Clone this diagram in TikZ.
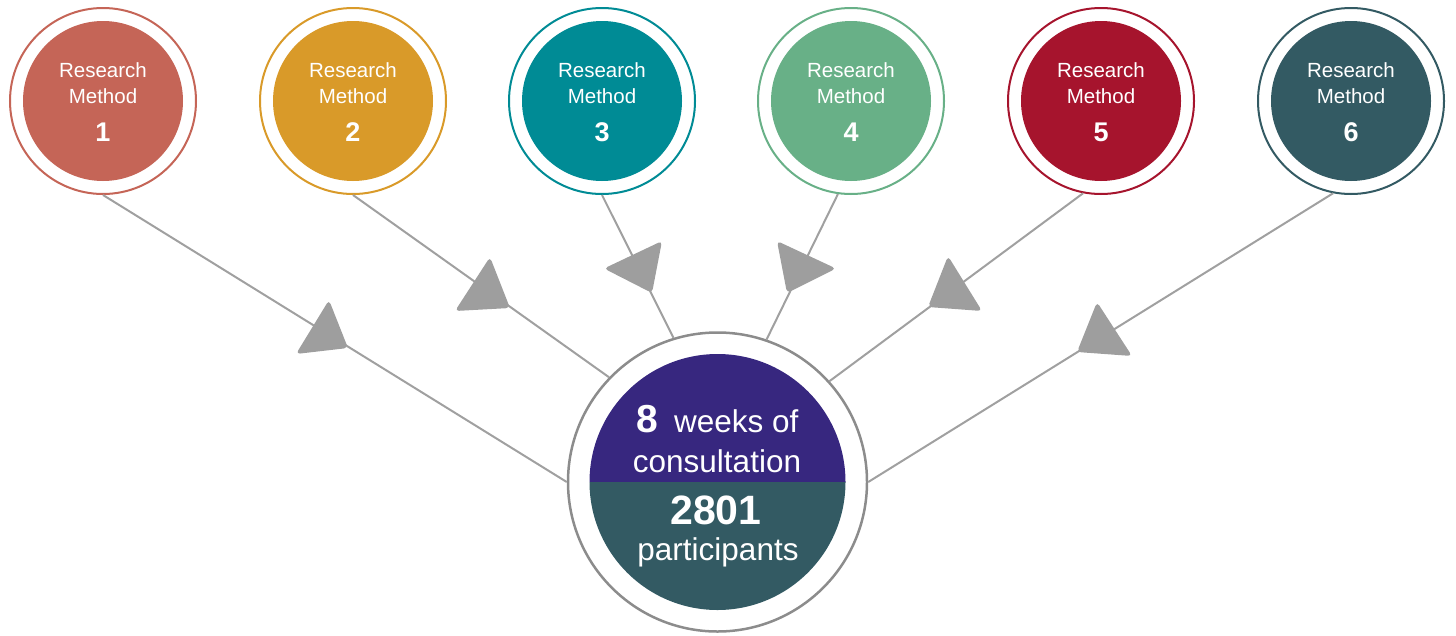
\documentclass[tikz,border=0pt]{standalone}
\usepackage{fontspec}
\setmainfont{Liberation Sans}
\definecolor{cA}{RGB}{197,101,87}
\definecolor{cB}{RGB}{217,154,41}
\definecolor{cC}{RGB}{0,139,149}
\definecolor{cD}{RGB}{104,176,135}
\definecolor{cE}{RGB}{166,20,45}
\definecolor{cF}{RGB}{51,90,99}
\definecolor{cPurple}{RGB}{55,39,127}
\definecolor{linegray}{RGB}{160,160,160}
\definecolor{trigray}{RGB}{158,158,158}
\definecolor{ringgray}{RGB}{140,140,140}
\tikzset{
  ring/.style={circle, draw=#1, line width=2pt, minimum size=186pt, inner sep=0pt, fill=white},
  disc/.style={circle, fill=#1, minimum size=160pt, inner sep=0pt},
  lbl/.style={text=white, font=\fontsize{20.5}{24}\selectfont, anchor=base, inner sep=0pt},
  numlbl/.style={text=white, font=\fontsize{27}{30}\selectfont\bfseries, anchor=base, inner sep=0pt},
  conn/.style={draw=linegray, line width=2pt},
  tri/.style={fill=trigray, rounded corners=4pt},
  bigtxt/.style={text=white, font=\fontsize{31.5}{34}\selectfont, anchor=base, inner sep=0pt},
  bignum/.style={text=white, font=\fontsize{41}{44}\selectfont\bfseries, anchor=base, inner sep=0pt}
}
\begin{document}
\begin{tikzpicture}[x=1pt,y=-1pt]
\useasboundingbox (0,0) rectangle (1456,635);

% central node
\node[circle, draw=ringgray, line width=2.5pt, minimum size=299pt, inner sep=0pt] (c) at (717.5,482) {};

% method rings (nodes for anchors)
\foreach \i/\x/\col in {1/103/cA,2/353/cB,3/602/cC,4/851/cD,5/1101/cE,6/1351/cF}{
  \node[ring=\col] (m\i) at (\x,101) {};
}

% connectors
\draw[conn] (m1.-90) -- (c.180);
\draw[conn] (m2.-90) -- (c.136.6);
\draw[conn] (m3.-90) -- (c.107);
\draw[conn] (m4.-98.5) -- (c.71);
\draw[conn] (m5.-101) -- (c.42.7);
\draw[conn] (m6.-101) -- (c.0);

% triangles
\fill[tri] (329,300) -- (296,354) -- (348,348) -- cycle;
\fill[tri] (490,257) -- (455,311) -- (510,308) -- cycle;
\fill[tri] (604,268.5) -- (662,241) -- (652,293) -- cycle;
\fill[tri] (777,241) -- (787,293) -- (836,268.5) -- cycle;
\fill[tri] (948,256) -- (928,307) -- (982,311) -- cycle;
\fill[tri] (1097,302) -- (1077,352) -- (1132,356) -- cycle;

% method discs and labels
\foreach \i/\x/\col in {1/103/cA,2/353/cB,3/602/cC,4/851/cD,5/1101/cE,6/1351/cF}{
  \node[disc=\col] (d\i) at (m\i) {};
  \node[lbl] (r\i) at (\x,77) {Research};
  \node[lbl] (t\i) at (\x,103) {Method};
  \node[numlbl] (n\i) at (\x,141) {\i};
}

% central halves
\fill[cPurple] (589.5,482) arc[start angle=180, end angle=0, radius=128pt] -- cycle;
\fill[cF] (589.5,482) arc[start angle=180, end angle=360, radius=128pt] -- cycle;

\node[bigtxt] (w) at (717.5,432) {{\fontsize{39}{42}\selectfont\bfseries 8}\hspace{0.5em}weeks of};
\node[bigtxt] (cs) at (717,472) {consultation};
\node[bignum] (p1) at (716,524) {2801};
\node[bigtxt] (p2) at (718,560) {participants};
\end{tikzpicture}
\end{document}
